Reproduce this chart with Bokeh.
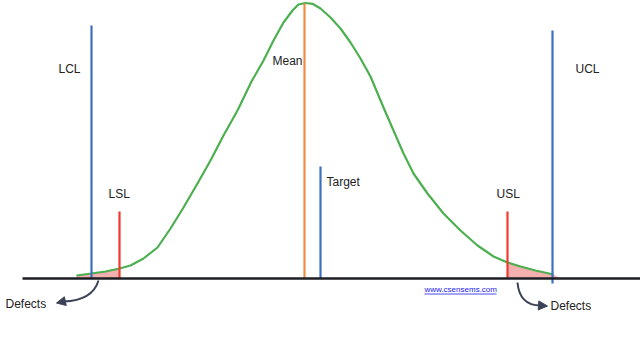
from bokeh.plotting import figure
from bokeh.models import Range1d, Arrow, NormalHead
from bokeh.core.properties import value
from bokeh.embed import file_html
from bokeh.resources import INLINE

# distribution curve (x position, height above baseline)
curve_x = [76, 91, 105, 119, 130, 143, 157, 170, 183, 197, 210, 223, 237, 251, 263, 273, 283,
           292, 298, 305, 312, 320, 330, 340, 350, 360, 370, 383, 393, 403, 413, 427, 443,
           460, 477, 493, 507, 520, 535, 553]
curve_h = [3, 5, 7, 10, 13, 20, 31, 50, 71, 95, 118, 143, 168, 197, 218, 238, 256,
           268, 274, 275.5, 274.7, 270, 261, 250, 236, 220, 202, 171, 148, 125, 105, 85, 65,
           48, 33, 22, 16, 12, 8, 4]

# limit lines
line_names = ["LCL", "LSL", "Mean", "Target", "USL", "UCL"]
line_x = [91, 119, 304, 320, 507, 552]
line_top = [253, 67, 275, 112, 67, 248]
line_bottom = [0, 0, 0, 0, 0, -5]
line_colors = ["#3b6fc4", "#ee3b2f", "#f28c43", "#3b6fc4", "#ee3b2f", "#3b6fc4"]

# labels
label_text = ["LCL", "UCL", "LSL", "USL", "Mean", "Target", "Defects", "Defects"]
label_x = [58, 575, 108, 496, 272, 326, 5, 550]
label_y = [210, 210, 85, 85, 218, 97, -25, -27]

url_text = ["www.csensems.com"]
url_x = [424]
url_y = [-11]

base_x = [22, 640]
tail_end = 560

p = figure(width=640, height=352, x_range=Range1d(0, 640), y_range=Range1d(-74, 278),
           output_backend="svg", toolbar_location=None, min_border=0)
p.axis.visible = False
p.grid.visible = False
p.outline_line_color = None
p.background_fill_color = "white"
p.border_fill_color = "white"

# shaded defect tails
lsl, usl = line_x[1], line_x[4]
lx = [x for x in curve_x if x <= lsl]
lh = [h for x, h in zip(curve_x, curve_h) if x <= lsl]
p.patch(lx + [lsl, lx[0]], lh + [0, 0], fill_color="#f4b0ae", line_color=None)
rx = [x for x in curve_x if x >= usl]
rh = [h for x, h in zip(curve_x, curve_h) if x >= usl]
p.patch(rx + [tail_end, usl], rh + [0, 0], fill_color="#f4b0ae", line_color=None)

# curve
p.line(curve_x, curve_h, line_color="#4caf50", line_width=2.2, line_join="round")

# vertical lines
p.segment(x0=line_x, y0=line_bottom, x1=line_x, y1=line_top, line_color=line_colors, line_width=2.2)

# baseline
p.line(base_x, [0, 0], line_color="#1c1e24", line_width=2.5)

# labels
p.text(x=label_x, y=label_y, text=label_text, text_font=value("Liberation Sans"),
       text_font_size="12px", text_color="#222222", text_baseline="middle", text_align="left")
p.text(x=url_x, y=url_y, text=url_text, text_font=value("Liberation Sans"),
       text_font_size="8px", text_color="#1a1aee", text_baseline="middle", text_align="left")
p.line([url_x[0], url_x[0] + 72], [url_y[0] - 4.5, url_y[0] - 4.5], line_color="#1a1aee", line_width=0.8)

# curved arrows to "Defects"
arrow_col = "#3b4256"
p.quadratic(x0=[98, 517], y0=[-2, -4], x1=[63, 540], y1=[-23, -27],
            cx=[92, 519], cy=[-22, -27], line_color=arrow_col, line_width=2)
p.add_layout(Arrow(end=NormalHead(size=9, fill_color=arrow_col, line_color=arrow_col),
                   x_start=64, y_start=-22.8, x_end=56, y_end=-24.5,
                   line_color=arrow_col, line_width=2))
p.add_layout(Arrow(end=NormalHead(size=9, fill_color=arrow_col, line_color=arrow_col),
                   x_start=539, y_start=-27, x_end=547, y_end=-27.5,
                   line_color=arrow_col, line_width=2))

open("out.html", "w").write(file_html(p, INLINE))
